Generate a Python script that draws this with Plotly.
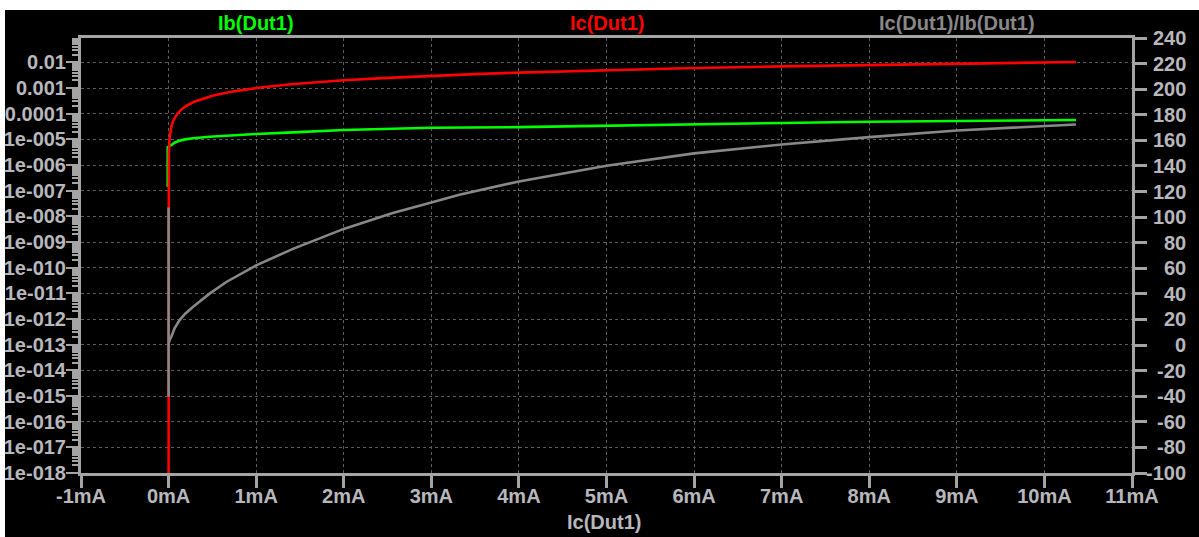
import plotly.graph_objects as go

# ---- Sweep data -------------------------------------------------------------
# Collector current of Dut1 (A); also plotted against itself on the log axis
ic_a = [1e-19, 1e-18, 1e-16, 1e-14, 1e-12, 1e-10, 1e-8, 1e-7, 1e-6, 3e-6,
        1e-5, 2e-5, 3e-5, 5e-5, 7e-5, 1e-4, 1.5e-4, 2e-4, 3e-4, 4e-4, 5e-4,
        7e-4, 1e-3, 1.4e-3, 2e-3, 2.5e-3, 3e-3, 3.5e-3, 4e-3, 5e-3, 6e-3,
        7e-3, 8e-3, 9e-3, 1e-2, 1.036e-2]

# Base current Ib(Dut1) (A) at the listed collector currents
ib_ic = [-1.0e-5, -1.0e-5, 1.2e-5, 3.1e-5, 6.8e-5, 1.26e-4, 1.9e-4, 2.77e-4,
         4.68e-4, 6.59e-4, 1.0e-3, 1.42e-3, 2.0e-3, 2.56e-3, 3.0e-3, 4.0e-3,
         5.0e-3, 6.0e-3, 7.0e-3, 8.0e-3, 9.0e-3, 1.036e-2]
ib_a = [1.4e-7, 5.0e-6, 5.6e-6, 6.0e-6, 7.4e-6, 8.9e-6, 1.0e-5, 1.10e-5,
        1.26e-5, 1.39e-5, 1.62e-5, 1.88e-5, 2.32e-5, 2.61e-5, 2.85e-5, 3.0e-5,
        3.32e-5, 3.75e-5, 4.35e-5, 4.88e-5, 5.33e-5, 5.69e-5]

# Current gain Ic(Dut1)/Ib(Dut1)
beta_ic = [0, 0, 0, 1.2e-5, 3.1e-5, 6.8e-5, 1.26e-4, 1.9e-4, 2.77e-4, 4.68e-4,
           6.59e-4, 1.0e-3, 1.42e-3, 2.0e-3, 2.56e-3, 3.0e-3, 3.32e-3, 4.0e-3,
           5.0e-3, 6.0e-3, 7.0e-3, 8.0e-3, 9.0e-3, 1.036e-2]
beta = [107.5, -40.5, 1.0, 4.0, 6.5, 13.0, 19.5, 24.5, 29.8, 40.2, 49.3, 62.3,
        75.2, 90.8, 103.2, 111.5, 117.5, 127.9, 140.1, 149.8, 156.8, 162.5,
        167.7, 172.4]

# ---- Axis ticks -------------------------------------------------------------
x_tickvals = [-0.001, 0.0, 0.001, 0.002, 0.003, 0.004, 0.005, 0.006, 0.007,
              0.008, 0.009, 0.010, 0.011]
x_ticktext = ["-1mA", "0mA", "1mA", "2mA", "3mA", "4mA", "5mA", "6mA", "7mA",
              "8mA", "9mA", "10mA", "11mA"]

log_tickvals = [1e-18, 1e-17, 1e-16, 1e-15, 1e-14, 1e-13, 1e-12, 1e-11, 1e-10,
                1e-9, 1e-8, 1e-7, 1e-6, 1e-5, 1e-4, 1e-3, 1e-2]
log_ticktext = ["1e-018", "1e-017", "1e-016", "1e-015", "1e-014", "1e-013",
                "1e-012", "1e-011", "1e-010", "1e-009", "1e-008", "1e-007",
                "1e-006", "1e-005", "0.0001", "0.001", "0.01"]

gain_tickvals = [-100, -80, -60, -40, -20, 0, 20, 40, 60, 80, 100, 120, 140,
                 160, 180, 200, 220, 240]
gain_ticktext = ["-100", "-80", "-60", "-40", "-20", "0", "20", "40", "60",
                 "80", "100", "120", "140", "160", "180", "200", "220", "240"]

# ---- Style ------------------------------------------------------------------
W, H = 1199, 537
L, R, T, B = 81, 67, 38, 64
PW, PH = W - L - R, H - T - B

AXIS = "#a4a4a4"
LABEL = "#b8b8bc"
GRID = "#5c5c5c"
GREEN = "#00ff00"
RED = "#ff0000"
GRAY = "#888888"
FONT = "Liberation Sans, Arial, sans-serif"
LW = 2.6


def px_x(p):
    return (p - L) / PW


def px_y(p):
    return (H - B - p) / PH


fig = go.Figure()

fig.add_trace(go.Scatter(x=ib_ic, y=ib_a, mode="lines", name="Ib(Dut1)",
                         line=dict(color=GREEN, width=LW), yaxis="y"))
fig.add_trace(go.Scatter(x=ic_a, y=ic_a, mode="lines", name="Ic(Dut1)",
                         line=dict(color=RED, width=LW), yaxis="y"))
fig.add_trace(go.Scatter(x=beta_ic, y=beta, mode="lines",
                         name="Ic(Dut1)/Ib(Dut1)",
                         line=dict(color=GRAY, width=LW), yaxis="y2"))

tick_font = dict(family=FONT, size=20, color=LABEL, weight="bold")

fig.update_layout(
    width=W, height=H,
    margin=dict(l=L, r=R, t=T, b=B, pad=0, autoexpand=False),
    paper_bgcolor="white",
    plot_bgcolor="black",
    showlegend=False,
    font=dict(family=FONT, size=20, color=LABEL, weight="bold"),
    xaxis=dict(
        range=[-0.001, 0.011], automargin=False,
        tickmode="array", tickvals=x_tickvals, ticktext=x_ticktext,
        ticks="outside", ticklen=12, tickwidth=3, tickcolor=AXIS,
        tickfont=tick_font, ticklabelstandoff=-9,
        showline=True, linecolor=AXIS, linewidth=3, mirror=True,
        showgrid=True, gridcolor=GRID, gridwidth=1, griddash="3px,3px",
        zeroline=False,
    ),
    yaxis=dict(
        type="log", range=[-18, -1.05], automargin=False,
        tickmode="array", tickvals=log_tickvals, ticktext=log_ticktext,
        ticks="outside", ticklen=12, tickwidth=2, tickcolor=AXIS,
        tickfont=tick_font, ticklabelstandoff=-4,
        minor=dict(dtick="D1", ticks="outside", ticklen=6, tickwidth=2,
                   tickcolor=AXIS, showgrid=False),
        showline=True, linecolor=AXIS, linewidth=3,
        showgrid=True, gridcolor=GRID, gridwidth=1, griddash="3px,3px",
        zeroline=False,
    ),
    yaxis2=dict(
        overlaying="y", side="right", range=[-100, 240], automargin=False,
        tickmode="array", tickvals=gain_tickvals,
        ticks="outside", ticklen=12, tickwidth=3, tickcolor=AXIS,
        showticklabels=False,
        showline=True, linecolor=AXIS, linewidth=3,
        showgrid=False, zeroline=False,
    ),
)

# Black panel behind the whole chart, leaving a thin white page edge
fig.add_shape(type="rect", xref="paper", yref="paper",
              x0=px_x(5), x1=px_x(W + 5), y0=px_y(H + 5), y1=px_y(10),
              fillcolor="black", line=dict(width=0), layer="below")

# Right-hand gain labels, right aligned
for v, t in zip(gain_tickvals, gain_ticktext):
    fig.add_annotation(x=px_x(1188), xref="paper", y=v, yref="y2",
                       text=t, showarrow=False, xanchor="right",
                       yanchor="middle", font=tick_font)

# Trace names across the top
for name, color, cx in [("Ib(Dut1)", GREEN, 1 / 6), ("Ic(Dut1)", RED, 0.5),
                        ("Ic(Dut1)/Ib(Dut1)", GRAY, 5 / 6)]:
    fig.add_annotation(x=cx, xref="paper", y=px_y(23), yref="paper",
                       text=name, showarrow=False, xanchor="center",
                       yanchor="middle",
                       font=dict(family=FONT, size=20, color=color,
                                 weight="bold"))

# X-axis title
fig.add_annotation(x=px_x(604), xref="paper", y=px_y(522), yref="paper",
                   text="Ic(Dut1)", showarrow=False, xanchor="center",
                   yanchor="middle", font=tick_font)

fig.write_html("out.html")
